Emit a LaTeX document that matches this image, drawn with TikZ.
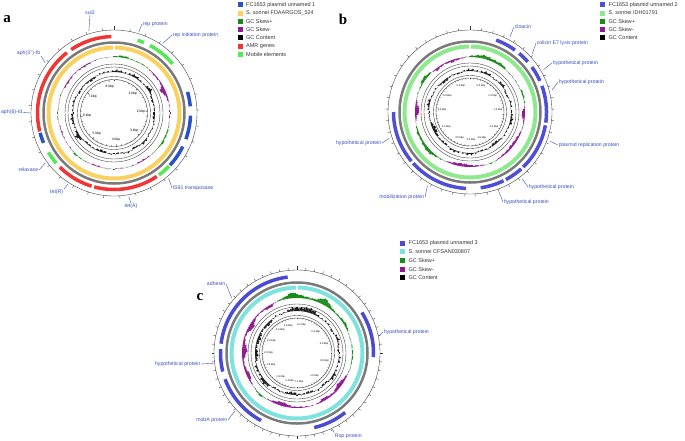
\documentclass[tikz,border=0pt]{standalone}
\usepackage{fontspec}
\setmainfont{Liberation Sans}
\newfontfamily\panelfont{Liberation Serif}
\definecolor{skp}{HTML}{1A8A1A}
\definecolor{skm}{HTML}{8E1C8E}
\definecolor{ablue}{HTML}{2A52C8}
\definecolor{ayellow}{HTML}{FAD060}
\definecolor{ared}{HTML}{F03535}
\definecolor{agreen}{HTML}{55E855}
\definecolor{bblue}{HTML}{4E4ED6}
\definecolor{bgreen}{HTML}{8EE88E}
\definecolor{cblue}{HTML}{4A4AD2}
\definecolor{ccyan}{HTML}{7EE2DE}
\definecolor{ringgray}{HTML}{7A7A7A}
\definecolor{labblue}{HTML}{3A4EC0}
\definecolor{legtext}{HTML}{333333}
\pgfmathdeclarefunction{bump}{3}{%
  \begingroup
  \pgfmathparse{mod(#1-#2+540,360)-180}%
  \pgfmathsetmacro\bumpd{\pgfmathresult/#3}%
  \pgfmathparse{1/(1+\bumpd*\bumpd)}%
  \pgfmathsmuggle\pgfmathresult
  \endgroup}
\pgfmathdeclarefunction{nz}{1}{%
  \begingroup
  \pgfmathparse{sin(37*#1+11)*cos(23*#1+29)}%
  \pgfmathsmuggle\pgfmathresult
  \endgroup}
\newcommand\skewbars[3]{%
  \foreach \ang in {0,2,...,358}{%
    \pgfmathsetmacro\vv{#3}%
    \pgfmathsetmacro\rr{#1+\vv}%
    \ifdim\vv pt>0pt \def\cc{skp}\else\def\cc{skm}\fi
    \draw[\cc, line width=#2] (\ang-90:#1) -- (\ang-90:\rr);
  }}
\newcommand\gcbars[3]{%
  \foreach \ang in {0,2,...,358}{%
    \pgfmathsetmacro\vv{#3}%
    \pgfmathsetmacro\rr{#1+\vv}%
    \draw[black!90, line width=#2] (\ang-90:#1) -- (\ang-90:\rr);
  }}
\newcommand\feat[3]{\draw[#1, line width=3.5] plot[domain=#2:#3, samples=30, variable=\q] (\q-90:76.5);}
\begin{document}
\begin{tikzpicture}[x=1pt,y=-1pt,
  leader/.style={labblue, line width=0.4},
  lab/.style={text=labblue, font=\fontsize{5.2}{6}\selectfont, inner sep=0.6},
  legbox/.style={minimum size=5, inner sep=0, outer sep=0},
  legtxt/.style={text=legtext, font=\fontsize{5.5}{6.5}\selectfont, inner sep=0, anchor=west},
  sclab/.style={font=\fontsize{3.4}{4}\selectfont, inner sep=0},
  thinc/.style={black!80, line width=0.35},
  panel/.style={font=\panelfont\bfseries\fontsize{15}{15}\selectfont, inner sep=0}]
\useasboundingbox (0,0) rectangle (685,440);

% ================= PANEL A =================
\node[panel] (pa) at (7,19) {a};
\begin{scope}[shift={(114,113)}]
  \draw[thinc] (0,0) circle[radius=83];
  \foreach \q in {0,11,...,352} \draw[thinc] (\q-90:83) -- (\q-90:85.5);
  \draw[thinc] (-90:83) -- (-90:87);
  \feat{ared}{-34}{-2}
  \feat{ared}{-104}{-38}
  \feat{ared}{197}{225}
  \feat{ared}{146}{195}
  \feat{ablue}{247}{255}
  \feat{ablue}{116}{133}
  \feat{ablue}{92}{110}
  \feat{ablue}{74}{85}
  \feat{agreen}{229}{239}
  \feat{agreen}{134}{144}
  \feat{agreen}{28}{50}
  \feat{agreen}{18}{23}
  \draw[ringgray, line width=2.5] (0,0) circle[radius=70.5];
  \draw[ayellow, line width=4] plot[domain=1:359, samples=120, variable=\q] (\q-90:65.5);
  \skewbars{56}{2}{0.6*sin(4*\ang+40)+0.8*nz(\ang)-4.5*bump(\ang,65,3.5)-1*bump(\ang,90,6)+2*bump(\ang,122,4)+2*bump(\ang,224,4)-1.2*bump(\ang,195,10)+0.8*bump(\ang,10,8)-1*bump(\ang,300,12)}
  \draw[thinc] (0,0) circle[radius=49];
  \draw[thinc] (0,0) circle[radius=46];
  \gcbars{41}{1.45}{1.2*sin(3*\ang+20)+1.5*nz(\ang+3)+3*bump(\ang,237,4)+2.5*bump(\ang,58,5)-2*bump(\ang,150,6)+1.5*bump(\ang,350,8)}
  \draw[thinc] (0,0) circle[radius=36.5];
  \draw[thinc] (0,0) circle[radius=33.5];
  \foreach \i in {0,...,40} {\pgfmathsetmacro\q{\i*8.78}\draw[thinc] (\q-90:33.5) -- (\q-90:32.3);}
  \foreach \k in {1,...,8} {\pgfmathsetmacro\q{\k*43.9}
    \draw[thinc] (\q-90:33.5) -- (\q-90:31.5);
    \node[sclab] (sa\k) at (\q-90:27) {\k\ kbp};}
  \coordinate (sa1s) at (343-90:86);
  \coordinate (sa2s) at (17-90:85);
  \coordinate (sa3s) at (35-90:85);
  \coordinate (sa4s) at (140-90:85);
  \coordinate (sa5s) at (170-90:85);
  \coordinate (sa6s) at (213-90:85);
  \coordinate (sa7s) at (234-90:85);
  \coordinate (sa8s) at (270-90:83);
  \coordinate (sa9s) at (306-90:85);
\end{scope}
\node[lab, anchor=south] (la1) at (90,15) {sul2};
\node[lab, anchor=west] (la2) at (142,24) {rep protein};
\node[lab, anchor=west] (la3) at (172,35) {rep initiation protein};
\node[lab, anchor=west] (la4) at (172,188) {IS91 transposase};
\node[lab, anchor=north] (la5) at (131,203) {tet(A)};
\node[lab, anchor=north east] (la6) at (64,189) {tet(R)};
\node[lab, anchor=east] (la7) at (39,170) {relaxase};
\node[lab, anchor=east] (la8) at (23,112.5) {aph(6)-Id};
\node[lab, anchor=south east] (la9) at (41,56) {aph(3{'}{'})-Ib};
\draw[leader] (sa1s) -- (la1.south);
\draw[leader] (sa2s) -- (la2.west);
\draw[leader] (sa3s) -- (la3.west);
\draw[leader] (sa4s) -- (la4.west);
\draw[leader] (sa5s) -- (la5.north);
\draw[leader] (sa6s) -- (la6.north east);
\draw[leader] (sa7s) -- (la7.east);
\draw[leader] (sa8s) -- (la8.east);
\draw[leader] (sa9s) -- (la9.south east);
% legend a
\node[legbox, fill=ablue] (ka1) at (240.5,4.7) {};
\node[legtxt] (ta1) at (246,4.7) {FC1653 plasmid unnamed 1};
\node[legbox, fill=ayellow] (ka2) at (240.5,13.0) {};
\node[legtxt] (ta2) at (246,13.0) {S. sonnei FDAARGOS\_524};
\node[legbox, fill=skp] (ka3) at (240.5,21.3) {};
\node[legtxt] (ta3) at (246,21.3) {GC Skew+};
\node[legbox, fill=skm] (ka4) at (240.5,29.6) {};
\node[legtxt] (ta4) at (246,29.6) {GC Skew-};
\node[legbox, fill=black] (ka5) at (240.5,37.9) {};
\node[legtxt] (ta5) at (246,37.9) {GC Content};
\node[legbox, fill=ared] (ka6) at (240.5,46.2) {};
\node[legtxt] (ta6) at (246,46.2) {AMR genes};
\node[legbox, fill=agreen] (ka7) at (240.5,54.5) {};
\node[legtxt] (ta7) at (246,54.5) {Mobile elements};

% ================= PANEL B =================
\node[panel] (pb) at (343,19) {b};
\begin{scope}[shift={(470,112)}]
  \draw[thinc] (0,0) circle[radius=82];
  \foreach \q in {0,8,...,352} \draw[thinc] (\q-90:82) -- (\q-90:84.5);
  \draw[thinc] (-90:82) -- (-90:86);
  \feat{bblue}{20}{36}
  \feat{bblue}{40}{49}
  \feat{bblue}{54}{66}
  \feat{bblue}{70}{98}
  \feat{bblue}{100}{136}
  \feat{bblue}{138}{152}
  \feat{bblue}{154}{172}
  \feat{bblue}{183}{228}
  \feat{bblue}{230}{270}
  \draw[ringgray, line width=2.5] (0,0) circle[radius=70.5];
  \draw[bgreen, line width=4] plot[domain=1:359, samples=120, variable=\q] (\q-90:65.5);
  \skewbars{55}{2}{0.6*sin(5*\ang)+0.9*nz(\ang+5)+3*bump(\ang,15,8)+2*bump(\ang,35,5)-2*bump(\ang,340,5)-3.5*bump(\ang,92,6)+2*bump(\ang,70,5)-2*bump(\ang,130,8)-3*bump(\ang,185,10)+3*bump(\ang,225,8)-3.5*bump(\ang,272,6)+2*bump(\ang,248,5)+2.5*bump(\ang,305,6)-2*bump(\ang,322,4)}
  \draw[thinc] (0,0) circle[radius=49];
  \draw[thinc] (0,0) circle[radius=46];
  \gcbars{41}{1.45}{1.3*sin(4*\ang+50)+1.6*nz(\ang+9)+2.5*bump(\ang,50,10)-2*bump(\ang,250,8)}
  \draw[thinc] (0,0) circle[radius=36.5];
  \draw[thinc] (0,0) circle[radius=34];
  \foreach \q in {0,6.3,...,354} \draw[thinc] (\q-90:34) -- (\q-90:32.8);
  \foreach \q/\lab [count=\k] in {23/0.5,54/1.0,86/1.5,121/2.0,155/2.5,178/3.0,202/3.5,238/4.0,274/4.5,306/5.0,341/5.5}
    \node[sclab, font=\fontsize{2.6}{3}\selectfont] (sb\k) at (\q-90:28) {\lab\ kbp};
  \coordinate (sb1s) at (28-90:85);
  \coordinate (sb2s) at (47-90:85);
  \coordinate (sb3s) at (60-90:85);
  \coordinate (sb4s) at (75-90:85);
  \coordinate (sb5s) at (110-90:85);
  \coordinate (sb6s) at (142-90:85);
  \coordinate (sb7s) at (160-90:85);
  \coordinate (sb8s) at (210-90:85);
  \coordinate (sb9s) at (252-90:85);
\end{scope}
\node[lab, anchor=west] (lb1) at (514,27) {cloacin};
\node[lab, anchor=west] (lb2) at (536,43) {colicin E7 lysis protein};
\node[lab, anchor=west] (lb3) at (552,63) {hypothetical protein};
\node[lab, anchor=west] (lb4) at (558,82) {hypothetical protein};
\node[lab, anchor=west] (lb5) at (558,145) {plasmid replication protein};
\node[lab, anchor=west] (lb6) at (528,187) {hypothetical protein};
\node[lab, anchor=west] (lb7) at (503,202) {hypothetical protein};
\node[lab, anchor=east] (lb8) at (425,197) {mobilization protein};
\node[lab, anchor=east] (lb9) at (382,143) {hypothetical protein};
\draw[leader] (sb1s) -- (lb1.west);
\draw[leader] (sb2s) -- (lb2.west);
\draw[leader] (sb3s) -- (lb3.west);
\draw[leader] (sb4s) -- (lb4.west);
\draw[leader] (sb5s) -- (lb5.west);
\draw[leader] (sb6s) -- (lb6.west);
\draw[leader] (sb7s) -- (lb7.west);
\draw[leader] (sb8s) -- (lb8.east);
\draw[leader] (sb9s) -- (lb9.east);
% legend b
\node[legbox, fill=bblue] (kb1) at (602.5,4.7) {};
\node[legtxt] (tb1) at (608.5,4.7) {FC1653 plasmid unnamed 2};
\node[legbox, fill=bgreen] (kb2) at (602.5,13.0) {};
\node[legtxt] (tb2) at (608.5,13.0) {S. sonnei IDH01791};
\node[legbox, fill=skp] (kb3) at (602.5,21.3) {};
\node[legtxt] (tb3) at (608.5,21.3) {GC Skew+};
\node[legbox, fill=skm] (kb4) at (602.5,29.6) {};
\node[legtxt] (tb4) at (608.5,29.6) {GC Skew-};
\node[legbox, fill=black] (kb5) at (602.5,37.9) {};
\node[legtxt] (tb5) at (608.5,37.9) {GC Content};

% ================= PANEL C =================
\node[panel] (pc) at (200,297) {c};
\begin{scope}[shift={(297,353)}]
  \draw[thinc] (0,0) circle[radius=83];
  \foreach \q in {0,6,...,354} \draw[thinc] (\q-90:83) -- (\q-90:85.5);
  \draw[thinc] (-90:83) -- (-90:87);
  \feat{cblue}{277}{353}
  \feat{cblue}{256}{273}
  \feat{cblue}{208}{250}
  \feat{cblue}{141}{167}
  \feat{cblue}{58}{93}
  \draw[ringgray, line width=2.5] (0,0) circle[radius=70.5];
  \draw[ccyan, line width=4] plot[domain=1:359, samples=120, variable=\q] (\q-90:65.5);
  \skewbars{55}{2}{0.5*sin(3*\ang)+0.8*nz(\ang+2)+6*bump(\ang,355,7)+5*bump(\ang,28,6)+1.5*bump(\ang,60,8)+2*bump(\ang,95,8)-4*bump(\ang,128,8)-2.5*bump(\ang,150,6)-3*bump(\ang,195,10)+3*bump(\ang,222,6)-3*bump(\ang,245,6)-5*bump(\ang,272,8)-4*bump(\ang,300,6)-2*bump(\ang,330,5)}
  \draw[thinc] (0,0) circle[radius=49];
  \draw[thinc] (0,0) circle[radius=46];
  \gcbars{42}{1.45}{1.5*sin(3*\ang+70)+1.8*nz(\ang+13)+3*bump(\ang,10,12)+2.5*bump(\ang,70,10)-3*bump(\ang,270,15)+2*bump(\ang,230,10)-2*bump(\ang,140,8)}
  \draw[thinc] (0,0) circle[radius=37.5];
  \draw[thinc] (0,0) circle[radius=35];
  \foreach \q in {0,5,...,355} \draw[thinc] (\q-90:35) -- (\q-90:33.8);
  \foreach \q/\lab [count=\k] in {9/0.2,41/0.4,72/0.6,105/0.8,142/1.0,176/1.2,195/1.4,215/1.6,246/1.8,271/2.0,296/2.2,324/2.4,342/2.6}
    \node[sclab, font=\fontsize{2.6}{3}\selectfont] (sc\k) at (\q-90:28.5) {\lab\ kbp};
  \coordinate (sc1s) at (310-90:85);
  \coordinate (sc2s) at (78-90:84);
  \coordinate (sc3s) at (263-90:84);
  \coordinate (sc4s) at (227-90:85);
  \coordinate (sc5s) at (155-90:84);
\end{scope}
\node[lab, anchor=east] (lc1) at (226,284) {adhesin};
\node[lab, anchor=west] (lc2) at (383,332) {hypothetical protein};
\node[lab, anchor=east] (lc3) at (201,364) {hypothetical protein};
\node[lab, anchor=east] (lc4) at (228,420) {mobA protein};
\node[lab, anchor=north west] (lc5) at (334,432.5) {Rop protein};
\draw[leader] (sc1s) -- (lc1.east);
\draw[leader] (sc2s) -- (lc2.west);
\draw[leader] (sc3s) -- (lc3.east);
\draw[leader] (sc4s) -- (lc4.east);
\draw[leader] (sc5s) -- (lc5.north west);
% legend c
\node[legbox, fill=cblue] (kc1) at (402.5,243.3) {};
\node[legtxt] (tc1) at (408.5,243.3) {FC1653 plasmid unnamed 3};
\node[legbox, fill=ccyan] (kc2) at (402.5,251.9) {};
\node[legtxt] (tc2) at (408.5,251.9) {S. sonnei CFSAN030807};
\node[legbox, fill=skp] (kc3) at (402.5,260.5) {};
\node[legtxt] (tc3) at (408.5,260.5) {GC Skew+};
\node[legbox, fill=skm] (kc4) at (402.5,269.1) {};
\node[legtxt] (tc4) at (408.5,269.1) {GC Skew-};
\node[legbox, fill=black] (kc5) at (402.5,277.7) {};
\node[legtxt] (tc5) at (408.5,277.7) {GC Content};
\end{tikzpicture}
\end{document}
